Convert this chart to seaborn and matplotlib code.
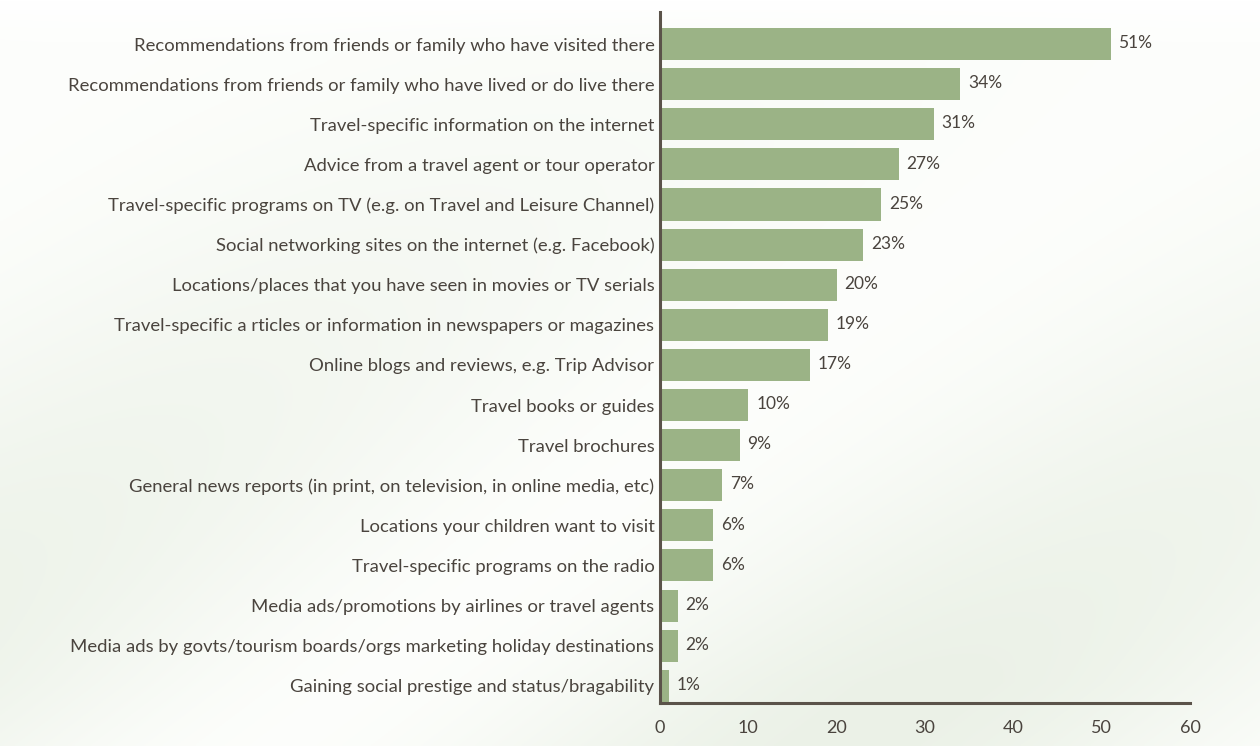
import numpy as np
import pandas as pd
import matplotlib
matplotlib.use("Agg")
import matplotlib.pyplot as plt
import seaborn as sns

categories = [
    "Recommendations from friends or family who have visited there",
    "Recommendations from friends or family who have lived or do live there",
    "Travel-specific information on the internet",
    "Advice from a travel agent or tour operator",
    "Travel-specific programs on TV (e.g. on Travel and Leisure Channel)",
    "Social networking sites on the internet (e.g. Facebook)",
    "Locations/places that you have seen in movies or TV serials",
    "Travel-specific a rticles or information in newspapers or magazines",
    "Online blogs and reviews, e.g. Trip Advisor",
    "Travel books or guides",
    "Travel brochures",
    "General news reports (in print, on television, in online media, etc)",
    "Locations your children want to visit",
    "Travel-specific programs on the radio",
    "Media ads/promotions by airlines or travel agents",
    "Media ads by govts/tourism boards/orgs marketing holiday destinations",
    "Gaining social prestige and status/bragability",
]
values = [51, 34, 31, 27, 25, 23, 20, 19, 17, 10, 9, 7, 6, 6, 2, 2, 1]
x_ticks = [0, 10, 20, 30, 40, 50, 60]

df = pd.DataFrame({"source": categories, "pct": values})

sns.set_theme(style="white")
plt.rcParams["font.family"] = ["Lato", "DejaVu Sans"]

text_col = "#4a443e"
axis_col = "#5b534a"
bar_col = "#9bb386"

fig = plt.figure(figsize=(12.6, 7.46), dpi=100)
fig.patch.set_facecolor("#f6f8f3")

# pale backdrop: white at the top, faint green swirls lower down
bg = fig.add_axes([0, 0, 1, 1], zorder=-10)
yy, xx = np.mgrid[0:1:300j, 0:1:500j]
shade = 0.5 + 0.5 * np.sin((xx * 1.4 - yy * 1.1) * 5.0)
shade = 0.35 + 0.65 * shade
green_amt = np.clip(1.1 - yy * 1.2, 0, 1) * (1 - shade) + 0.15 * (1 - shade)
base = np.array([0.90, 0.93, 0.88])
white = np.array([0.99, 0.995, 0.985])
g = np.clip(green_amt, 0, 1)[..., None]
img = white[None, None, :] * (1 - g) + base[None, None, :] * g
top_fade = np.clip((yy - 0.93) / 0.07, 0, 1)[..., None]
img = img * (1 - top_fade) + np.ones(3) * top_fade
bg.imshow(img, aspect="auto", extent=[0, 1, 0, 1], origin="lower")
bg.axis("off")

ax = fig.add_axes([660 / 1260, 1 - 703 / 746, 530 / 1260, (703 - 12) / 746])
ax.set_facecolor("none")

sns.barplot(data=df, x="pct", y="source", color=bar_col, saturation=1,
            width=0.8, orient="h", ax=ax, zorder=2, linewidth=0)

for i, v in enumerate(values):
    ax.text(v + 0.9, i - 0.02, f"{v}%", va="center", ha="left",
            fontsize=12.5, color=text_col)

ax.set_xlim(0, 60)
ax.set_ylim(16.43, -0.8)
ax.set_xticks(x_ticks)
ax.set_xticklabels([str(t) for t in x_ticks], fontsize=13, color=text_col)
ax.tick_params(axis="x", direction="out", length=8, width=2.2, color=axis_col, pad=4)
ax.tick_params(axis="y", length=0, pad=4, labelsize=13.3, labelcolor=text_col)
ax.set_xlabel("")
ax.set_ylabel("")

for side in ["top", "right"]:
    ax.spines[side].set_visible(False)
for side in ["left", "bottom"]:
    ax.spines[side].set_color(axis_col)
    ax.spines[side].set_linewidth(2.2)

fig.savefig("out.png", dpi=100, facecolor=fig.get_facecolor())
